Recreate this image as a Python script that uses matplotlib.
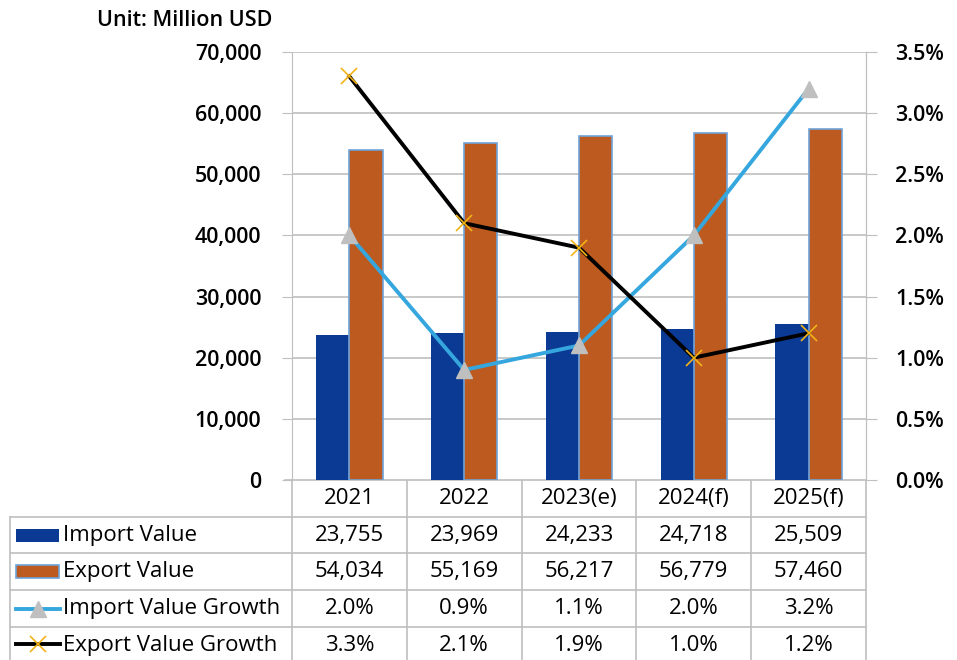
import numpy as np
import matplotlib
matplotlib.use("Agg")
import matplotlib.pyplot as plt
from matplotlib.patches import Rectangle
from matplotlib.lines import Line2D
from matplotlib.ticker import FuncFormatter, MultipleLocator

plt.rcParams['font.family'] = ['Open Sans', 'DejaVu Sans']

years = ["2021", "2022", "2023(e)", "2024(f)", "2025(f)"]
import_value = [23755, 23969, 24233, 24718, 25509]
export_value = [54034, 55169, 56217, 56779, 57460]
import_growth = [2.0, 0.9, 1.1, 2.0, 3.2]
export_growth = [3.3, 2.1, 1.9, 1.0, 1.2]

c_imp = "#0a3a94"
c_exp = "#bc5a1f"
c_edge = "#6fa3d9"
c_impline = "#35a7de"
c_grid = "#bfbfbf"

W, H = 957, 660
fig = plt.figure(figsize=(W / 100, H / 100), dpi=100)

# zone du graphique en pixels
L, R, T, B = 292, 866, 52, 480
ax = fig.add_axes([L / W, 1 - B / H, (R - L) / W, (B - T) / H])
x = np.arange(len(years))
bw = 0.29
ax.bar(x - bw / 2, import_value, bw, color=c_imp, zorder=2)
ax.bar(x + bw / 2, export_value, bw, color=c_exp, edgecolor=c_edge, linewidth=1.2, zorder=2)
ax.set_xlim(-0.5, len(years) - 0.5)
ax.set_ylim(0, 70000)
ax.yaxis.set_major_locator(MultipleLocator(10000))
ax.yaxis.set_major_formatter(FuncFormatter(lambda v, p: f"{int(v):,}"))
ax.grid(axis="y", color=c_grid, linewidth=1.2, zorder=0)
ax.set_axisbelow(True)
ax.set_xticks([])
for s in ["top", "bottom"]:
    ax.spines[s].set_visible(False)
ax.spines["left"].set_color(c_grid)
ax.spines["right"].set_color(c_grid)
ax.tick_params(axis="y", length=7, color=c_grid, labelsize=15.5, pad=15)
for lab in ax.get_yticklabels():
    lab.set_fontweight("semibold")

ax2 = ax.twinx()
ax2.plot(x, import_growth, color=c_impline, linewidth=2.8, marker="^", markersize=11,
         markerfacecolor=c_grid, markeredgecolor=c_grid, zorder=3)
ax2.plot(x, export_growth, color="black", linewidth=2.8, marker="x", markersize=11,
         markeredgecolor="#f2b418", markeredgewidth=1.2, zorder=3)
ax2.set_ylim(0, 3.5)
ax2.yaxis.set_major_locator(MultipleLocator(0.5))
ax2.yaxis.set_major_formatter(FuncFormatter(lambda v, p: f"{v:.1f}%"))
for s in ["top", "bottom", "left"]:
    ax2.spines[s].set_visible(False)
ax2.spines["right"].set_color(c_grid)
ax2.tick_params(axis="y", length=8, color=c_grid, labelsize=15.5, pad=13)
for lab in ax2.get_yticklabels():
    lab.set_fontweight("semibold")

fig.text(272 / W, 1 - 20 / H, "Unit: Million USD", ha="right", va="center",
         fontsize=15.5, fontweight="semibold")

# tableau de donnees, en pixels
tab = fig.add_axes([0, 0, 1, 1], zorder=-1)
tab.set_xlim(0, W)
tab.set_ylim(H, 0)
tab.axis("off")
colw = (R - L) / len(years)
rows = [480, 517, 553, 590, 627, 664]
lc = c_grid
tab.plot([L - 7, R], [B, B], color=lc, lw=1.2)
for yy in rows[1:]:
    tab.plot([10, R], [yy, yy], color=lc, lw=1.2)
tab.plot([10, 10], [rows[1], rows[-1]], color=lc, lw=1.2)
for i in range(len(years) + 1):
    tab.plot([L + i * colw, L + i * colw], [B, rows[-1]], color=lc, lw=1.2)

series = [
    ("Import Value", [f"{v:,}" for v in import_value]),
    ("Export Value", [f"{v:,}" for v in export_value]),
    ("Import Value Growth", [f"{v:.1f}%" for v in import_growth]),
    ("Export Value Growth", [f"{v:.1f}%" for v in export_growth]),
]
fs = 16
for i, y in enumerate(years):
    tab.text(L + (i + 0.5) * colw, (rows[0] + rows[1]) / 2, y, ha="center", va="center", fontsize=fs)
for r, (name, vals) in enumerate(series):
    yc = (rows[r + 1] + rows[r + 2]) / 2
    tab.text(63, yc, name, ha="left", va="center", fontsize=fs)
    for i, v in enumerate(vals):
        tab.text(L + (i + 0.5) * colw, yc, v, ha="center", va="center", fontsize=fs)

# cles de legende
y0 = (rows[1] + rows[2]) / 2
tab.add_patch(Rectangle((16, y0 - 6.5), 43, 13, facecolor=c_imp, edgecolor="none"))
y1 = (rows[2] + rows[3]) / 2
tab.add_patch(Rectangle((16, y1 - 6.5), 43, 13, facecolor=c_exp, edgecolor=c_edge, lw=1.2))
y2 = (rows[3] + rows[4]) / 2
tab.add_line(Line2D([16, 60], [y2, y2], color=c_impline, lw=2.8))
tab.add_line(Line2D([38], [y2], marker="^", markersize=11, color=c_grid, linestyle="none"))
y3 = (rows[4] + rows[5] - 4) / 2
tab.add_line(Line2D([16, 60], [y3, y3], color="black", lw=2.8))
tab.add_line(Line2D([38], [y3], marker="x", markersize=11, markeredgecolor="#f2b418",
                    markeredgewidth=1.2, linestyle="none"))

fig.savefig("out.png", dpi=100)
